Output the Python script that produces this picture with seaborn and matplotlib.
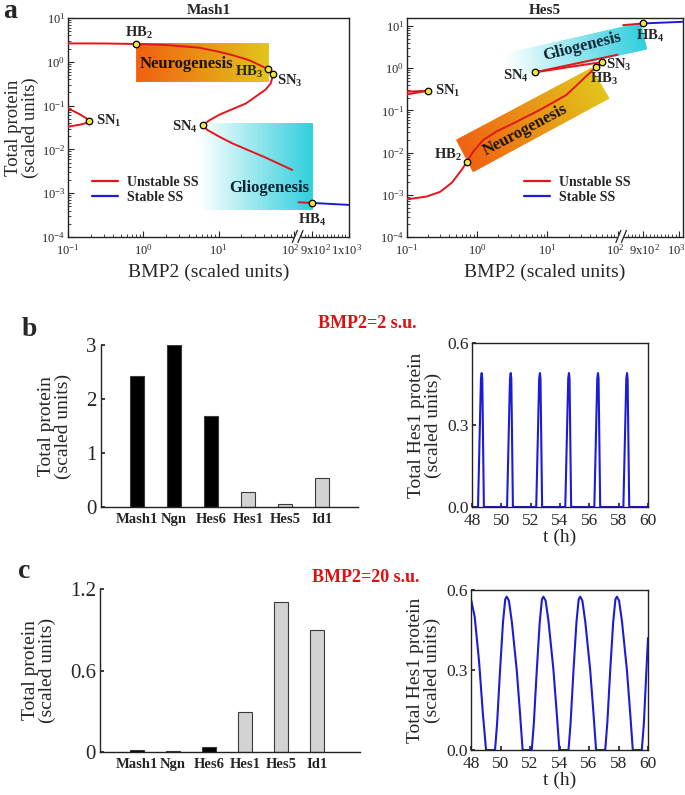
import numpy as np
import pandas as pd
import matplotlib
matplotlib.use("Agg")
import matplotlib.pyplot as plt
from matplotlib.lines import Line2D
from matplotlib.colors import to_rgb
from matplotlib.ticker import FixedLocator, NullFormatter, LogLocator
from matplotlib.transforms import ScaledTranslation
import seaborn as sns

# ---------------- data ----------------
# Panel a, Mash1 bifurcation diagram (BMP2 vs total protein)
mash_main_x = [0.1, 0.3, 0.807, 2.0, 5.5, 10, 15, 25, 45.7, 53.1, 49, 41.7, 23, 10.2, 7.5, 6.17, 7.1, 10.2, 15.1, 42, 94.6]
mash_main_y = [2.63, 2.62, 2.55, 2.42, 2.1, 1.70, 1.43, 1.1, 0.676, 0.519, 0.32, 0.23, 0.112, 0.062, 0.046, 0.0355, 0.0277, 0.0195, 0.0138, 0.0065, 0.0034]
mash_sn1_x = [0.1, 0.144, 0.175, 0.19, 0.175, 0.144, 0.1]
mash_sn1_y = [0.087, 0.063, 0.051, 0.0447, 0.040, 0.0367, 0.033]
mash_hb4_x = [863, 900]
mash_hb4_y = [6.2e-4, 6.0e-4]
mash_stable_x = [900, 1000]
mash_stable_y = [6.0e-4, 5.4e-4]
mash_pts_x = [0.19, 0.807, 45.7, 53.1, 6.17, 900]
mash_pts_y = [0.0447, 2.55, 0.676, 0.519, 0.0355, 6.0e-4]
mash_pts_lab = ["SN_1", "HB_2", "HB_3", "SN_3", "SN_4", "HB_4"]

# Panel a, Hes5 bifurcation diagram
hes5_main_x = [0.1, 0.19, 0.295, 0.437, 0.60, 0.71, 0.877, 1.22, 1.88, 3.24, 7.76, 18.6, 50, 60]
hes5_main_y = [7.8e-4, 9.1e-4, 1.17e-3, 1.95e-3, 3.9e-3, 5.9e-3, 0.0105, 0.020, 0.0316, 0.049, 0.102, 0.232, 1.09, 1.40]
hes5_up1_x = [6.6, 101]
hes5_up1_y = [0.80, 2.09]
hes5_up2_x = [6.6, 60]
hes5_up2_y = [0.80, 1.40]
hes5_sn1a_x = [0.1, 0.2]
hes5_sn1a_y = [0.278, 0.293]
hes5_sn1b_x = [0.1, 0.2]
hes5_sn1b_y = [0.24, 0.293]
hes5_hb4_x = [847, 900]
hes5_hb4_y = [10.5, 11.5]
hes5_stable_x = [900, 1010]
hes5_stable_y = [11.5, 12.6]
hes5_pts_x = [0.2, 0.71, 6.6, 50, 60, 900]
hes5_pts_y = [0.293, 5.9e-3, 0.80, 1.09, 1.40, 11.5]
hes5_pts_lab = ["SN_1", "HB_2", "SN_4", "HB_3", "SN_3", "HB_4"]

x_ticks = [0.1, 1, 10, 100, 900, 1000]
y_ticks = [1e-4, 1e-3, 1e-2, 1e-1, 1, 10]
y_ticklabels = ["$10^{-4}$", "$10^{-3}$", "$10^{-2}$", "$10^{-1}$", "$10^{0}$", "$10^{1}$"]

# Panels b, c: bar charts
genes = ["Mash1", "Ngn", "Hes6", "Hes1", "Hes5", "Id1"]
b_vals = [2.43, 3.0, 1.69, 0.27, 0.055, 0.53]
c_vals = [0.015, 0.005, 0.04, 0.295, 1.107, 0.898]
gene_colors = ["#000000", "#000000", "#000000", "#d3d3d3", "#d3d3d3", "#d3d3d3"]

# Panel b: Hes1 time course, BMP2 = 2
b_t = [48.0, 48.41, 48.61, 48.66, 48.70, 48.81,
       50.39, 50.59, 50.64, 50.68, 50.79,
       52.38, 52.58, 52.63, 52.67, 52.78,
       54.36, 54.56, 54.61, 54.65, 54.76,
       56.34, 56.54, 56.59, 56.63, 56.74,
       58.32, 58.52, 58.57, 58.61, 58.72, 60.0]
b_v = [0, 0, 0.47, 0.49, 0.47, 0,
       0, 0.47, 0.49, 0.47, 0,
       0, 0.47, 0.49, 0.47, 0,
       0, 0.47, 0.49, 0.47, 0,
       0, 0.47, 0.49, 0.47, 0,
       0, 0.47, 0.49, 0.47, 0, 0]

# Panel c: Hes1 time course, BMP2 = 20
c_t = [48.00, 48.25, 48.55, 48.80, 49.02, 49.63, 49.77, 49.97, 50.17, 50.32, 50.42, 50.57, 50.77, 51.10, 51.32,
       51.50, 52.12, 52.26, 52.46, 52.66, 52.81, 52.91, 53.06, 53.26, 53.59, 53.81,
       53.99, 54.61, 54.75, 54.95, 55.15, 55.30, 55.40, 55.55, 55.75, 56.08, 56.30,
       56.48, 57.10, 57.24, 57.44, 57.64, 57.79, 57.89, 58.04, 58.24, 58.57, 58.79,
       58.97, 59.58, 59.72, 59.92, 60.00]
c_v = [0.565, 0.50, 0.33, 0.14, 0.0, 0.0, 0.10, 0.30, 0.48, 0.565, 0.575, 0.56, 0.48, 0.30, 0.14,
       0.0, 0.0, 0.10, 0.30, 0.48, 0.565, 0.575, 0.56, 0.48, 0.30, 0.14,
       0.0, 0.0, 0.10, 0.30, 0.48, 0.565, 0.575, 0.56, 0.48, 0.30, 0.14,
       0.0, 0.0, 0.10, 0.30, 0.48, 0.565, 0.575, 0.56, 0.48, 0.30, 0.14,
       0.0, 0.0, 0.10, 0.33, 0.42]

# ---------------- style ----------------
sns.set_theme(style="white")
plt.rcParams["font.family"] = ["Liberation Serif", "DejaVu Serif"]
plt.rcParams["mathtext.fontset"] = "custom"
plt.rcParams["mathtext.rm"] = "Liberation Serif"
plt.rcParams["mathtext.it"] = "Liberation Serif:italic"
plt.rcParams["mathtext.bf"] = "Liberation Serif:bold"
plt.rcParams["axes.edgecolor"] = "#222222"
plt.rcParams["axes.linewidth"] = 1.0

RED = "#e3161c"
BLUE = "#1c1cd6"
W, H = 685, 795
fig = plt.figure(figsize=(W / 100, H / 100), dpi=100)


def add_ax(l, t, r, b):
    return fig.add_axes([l / W, 1 - b / H, (r - l) / W, (b - t) / H])


def make_scale(k, u9, eps=0.02):
    xb = 900 + (2 + eps - u9) / k

    def fwd(x):
        x = np.asarray(x, dtype=float)
        s1 = np.log10(np.where(x > 0, x, 1e-30))
        s2 = 2 + (x - 100) / (xb - 100) * eps
        s3 = u9 + (x - 900) * k
        return np.where(x <= 100, s1, np.where(x <= xb, s2, s3))

    def inv(u):
        u = np.asarray(u, dtype=float)
        s1 = 10.0 ** np.clip(u, -30, 2)
        s2 = 100 + (u - 2) / eps * (xb - 100)
        s3 = 900 + (u - u9) / k
        return np.where(u <= 2, s1, np.where(u <= 2 + eps, s2, s3))

    return fwd, inv


def grad_quad(ax, inv, tl, bl, br, tr, c0, c1, n=70):
    c0 = np.array(to_rgb(c0)); c1 = np.array(to_rgb(c1))
    tl, bl, br, tr = map(np.array, (tl, bl, br, tr))
    for i in range(n):
        a, b = i / n, (i + 1) / n
        pts = np.array([tl + (tr - tl) * a, tl + (tr - tl) * b,
                        bl + (br - bl) * b, bl + (br - bl) * a])
        col = c0 + (c1 - c0) * (a + b) / 2
        ax.fill(inv(pts[:, 0]), 10.0 ** pts[:, 1], color=col, lw=0.6, ec=col, zorder=0.5)


def line(ax, xs, ys, color):
    sns.lineplot(x=xs, y=ys, sort=False, estimator=None, color=color, lw=1.4, ax=ax, zorder=3)


def shift_label(lab, dx):
    lab.set_transform(lab.get_transform() + ScaledTranslation(dx / 100, 0, fig.dpi_scale_trans))


def setup_bif(ax, fwd, inv, xmax, ymax, title, last_label, shifts):
    ax.set_xscale("function", functions=(fwd, inv))
    ax.set_yscale("log")
    ax.set_xlim(0.1, xmax)
    ax.set_ylim(1e-4, ymax)
    ax.set_xticks(x_ticks)
    ax.set_xticklabels(["$10^{-1}$", "$10^{0}$", "$10^{1}$", "$10^{2}$",
                        "$9\\mathregular{x}10^{2}$", last_label])
    minors = [k * 10.0 ** e for e in (-1, 0, 1) for k in range(2, 10)] + list(range(860, 1000, 10))
    ax.xaxis.set_minor_locator(FixedLocator([m for m in minors if m != 900]))
    ax.xaxis.set_minor_formatter(NullFormatter())
    ax.set_yticks(y_ticks)
    ax.set_yticklabels(y_ticklabels)
    ax.yaxis.set_minor_locator(LogLocator(subs=np.arange(2, 10)))
    ax.yaxis.set_minor_formatter(NullFormatter())
    ax.tick_params(which="both", direction="in", bottom=True, left=True, top=False, right=False,
                   labelsize=9)
    ax.tick_params(axis="x", pad=4)
    ax.tick_params(axis="y", pad=2)
    ax.tick_params(which="major", length=4, width=0.8)
    ax.tick_params(which="minor", length=2, width=0.6)
    labs = ax.get_xticklabels()
    for i, dx in shifts.items():
        shift_label(labs[i], dx)
    ax.set_title(title, fontsize=11, fontweight="bold", pad=3)
    ax.set_xlabel("BMP2 (scaled units)", fontsize=14, labelpad=5)
    for s in ax.spines.values():
        s.set_visible(True)
    # axis break marks at 10^2
    u0, u1 = fwd(0.1), fwd(xmax)
    f = (fwd(100) - u0) / (u1 - u0)
    ax.add_patch(plt.Rectangle((f + 0.003, -0.01), 0.018, 0.02, transform=ax.transAxes,
                               color="white", clip_on=False, zorder=10))
    for dx in (0.0, 0.02):
        ax.plot([f + dx - 0.006, f + dx + 0.012], [-0.025, 0.03], transform=ax.transAxes,
                color="#222222", lw=0.9, clip_on=False, zorder=11)


def label_pts(ax, xs, ys, labs, offs):
    sns.scatterplot(x=xs, y=ys, ax=ax, s=22, color="#f3e53a", edgecolor="black", linewidth=0.9, zorder=5)
    for x, y, lab, (dx, dy, ha) in zip(xs, ys, labs, offs):
        ax.annotate("$\\mathbf{%s}$" % lab, (x, y), xytext=(dx, dy), textcoords="offset pixels",
                    ha=ha, va="center", fontsize=10.5, zorder=6)


def legend(ax, bx, by):
    h = [Line2D([], [], color=RED, lw=1.6, label="Unstable SS"),
         Line2D([], [], color=BLUE, lw=1.6, label="Stable SS")]
    ax.legend(handles=h, loc="upper left", bbox_to_anchor=(bx, by), frameon=False,
              prop=dict(weight="bold", size=10), handlelength=1.9, handletextpad=0.6,
              labelspacing=0.15, borderpad=0, borderaxespad=0)


# ---------------- panel a: Mash1 ----------------
fwdL, invL = make_scale(0.0049, 2.24)
axL = add_ax(68, 18, 349, 237)
setup_bif(axL, fwdL, invL, 1000, 10, "Mash1", "$1\\mathregular{x}10^{3}$", {3: -4, 4: 3, 5: -2})
grad_quad(axL, invL, (-0.093, 0.436), (-0.093, -0.438), (1.66, -0.438), (1.66, 0.436), "#f06010", "#e2c41a")
grad_quad(axL, invL, (0.73, -1.40), (0.73, -3.37), (2.24, -3.37), (2.24, -1.40), "#ffffff", "#2fcfdd")
line(axL, mash_main_x, mash_main_y, RED)
line(axL, mash_sn1_x, mash_sn1_y, RED)
line(axL, mash_hb4_x, mash_hb4_y, RED)
line(axL, mash_stable_x, mash_stable_y, BLUE)
label_pts(axL, mash_pts_x, mash_pts_y, mash_pts_lab,
          [(7, 0, "left"), (3, 11, "center"), (-5, -3, "right"), (4, -7, "left"),
           (-5, -2, "right"), (0, -17, "center")])
axL.set_ylabel("Total protein\n(scaled units)", fontsize=13.5, linespacing=1.0)
axL.yaxis.set_label_coords((39 - 68) / 281, 0.5)
fig.text(186 / W, 1 - 64 / H, "Neurogenesis", fontsize=12, fontweight="bold", color="#1a1208",
         ha="center", va="center")
fig.text(269 / W, 1 - 188 / H, "Gliogenesis", fontsize=12, fontweight="bold", color="#0b2434",
         ha="center", va="center")
legend(axL, (92 - 68) / 281, (237 - 176) / 219)

# ---------------- panel a: Hes5 ----------------
fwdR, invR = make_scale(0.00523, 2.357)
axR = add_ax(407, 18, 683, 237)
setup_bif(axR, fwdR, invR, 1010, 10 ** 1.19, "Hes5", "$10^{3}$", {3: -2, 4: 2, 5: -3})
grad_quad(axR, invR, (-0.294, -1.701), (-0.058, -2.452), (1.877, -0.713), (1.627, 0.0), "#f06010", "#e2c41a")
grad_quad(axR, invR, (0.380, 0.336), (0.465, -0.280), (2.414, 0.455), (2.329, 1.071), "#ffffff", "#2fcfdd")
line(axR, hes5_main_x, hes5_main_y, RED)
line(axR, hes5_up1_x, hes5_up1_y, RED)
line(axR, hes5_up2_x, hes5_up2_y, RED)
line(axR, hes5_sn1a_x, hes5_sn1a_y, RED)
line(axR, hes5_sn1b_x, hes5_sn1b_y, RED)
line(axR, hes5_hb4_x, hes5_hb4_y, RED)
line(axR, hes5_stable_x, hes5_stable_y, BLUE)
label_pts(axR, hes5_pts_x, hes5_pts_y, hes5_pts_lab,
          [(7, 0, "left"), (-5, 7, "right"), (-6, -4, "right"), (8, -12, "center"),
           (4, -3, "left"), (7, -12, "center")])
fig.text(525 / W, 1 - 130 / H, "Neurogenesis", fontsize=12, fontweight="bold", color="#1a1208",
         ha="center", va="center", rotation=28)
fig.text(582 / W, 1 - 47 / H, "Gliogenesis", fontsize=12, fontweight="bold", color="#0b2434",
         ha="center", va="center", rotation=14)
legend(axR, (524 - 407) / 276, (237 - 176) / 219)


# ---------------- bar panels ----------------
def bar_panel(ax, vals, ymax, ticks, ticklabels):
    df = pd.DataFrame({"gene": genes, "val": vals})
    sns.barplot(data=df, x="gene", y="val", hue="gene", palette=gene_colors, order=genes,
                hue_order=genes, width=0.4, legend=False, ax=ax, saturation=1)
    for p in sorted(ax.patches, key=lambda r: r.get_x()):
        p.set_edgecolor("#3a3a3a")
        p.set_linewidth(0.8)
    ax.set_ylim(0, ymax)
    ax.set_yticks(ticks)
    ax.set_yticklabels(ticklabels)
    sns.despine(ax=ax)
    ax.tick_params(axis="y", direction="in", length=3, labelsize=15, left=True, pad=3)
    ax.tick_params(axis="x", length=0, labelsize=10.5, pad=4)
    for t in ax.get_xticklabels():
        t.set_fontweight("bold")
    ax.set_xlabel("")
    ax.set_ylabel("Total protein\n(scaled units)", fontsize=14, labelpad=10, linespacing=1.0)


def time_panel(ax, t, v):
    sns.lineplot(x=t, y=v, sort=False, estimator=None, color=BLUE, lw=1.5, ax=ax)
    ax.set_xlim(48, 60)
    ax.set_ylim(0, 0.6)
    ax.set_xticks(range(48, 61, 2))
    ax.set_yticks([0, 0.3, 0.6])
    ax.set_yticklabels(["0.0", "0.3", "0.6"])
    for s in ax.spines.values():
        s.set_visible(True)
    ax.tick_params(direction="in", length=3, labelsize=12.5, left=True, bottom=True)
    ax.tick_params(axis="x", pad=4)
    ax.tick_params(axis="y", pad=2)
    ax.set_xlabel("t (h)", fontsize=14, labelpad=0)
    ax.set_ylabel("Total Hes1 protein\n(scaled units)", fontsize=14, labelpad=4, linespacing=1.0)


axb1 = add_ax(101, 345, 358, 507)
bar_panel(axb1, b_vals, 3, [0, 1, 2, 3], ["0", "1", "2", "3"])
axb1.set_xlim(-0.97, 5.97)
axb2 = add_ax(472, 343, 648, 507)
time_panel(axb2, b_t, b_v)

axc1 = add_ax(100, 589, 360, 752)
bar_panel(axc1, c_vals, 1.2, [0, 0.6, 1.2], ["0", "0.6", "1.2"])
axc1.set_xlim(-1.03, 6.2)
axc2 = add_ax(471, 590, 648, 750)
time_panel(axc2, c_t, c_v)

# ---------------- panel letters & conditions ----------------
fig.text(10 / W, 1 - 12 / H, "a", fontsize=20, fontweight="bold", ha="center", va="center")
fig.text(29 / W, 1 - 330 / H, "b", fontsize=20, fontweight="bold", ha="center", va="center")
fig.text(24 / W, 1 - 572 / H, "c", fontsize=20, fontweight="bold", ha="center", va="center")
fig.text(367 / W, 1 - 323 / H, "BMP2=2 s.u.", fontsize=13, fontweight="bold", color="#e01010",
         ha="center", va="center")
fig.text(366 / W, 1 - 577 / H, "BMP2=20 s.u.", fontsize=13, fontweight="bold", color="#e01010",
         ha="center", va="center")

fig.savefig("out.png", dpi=100)
